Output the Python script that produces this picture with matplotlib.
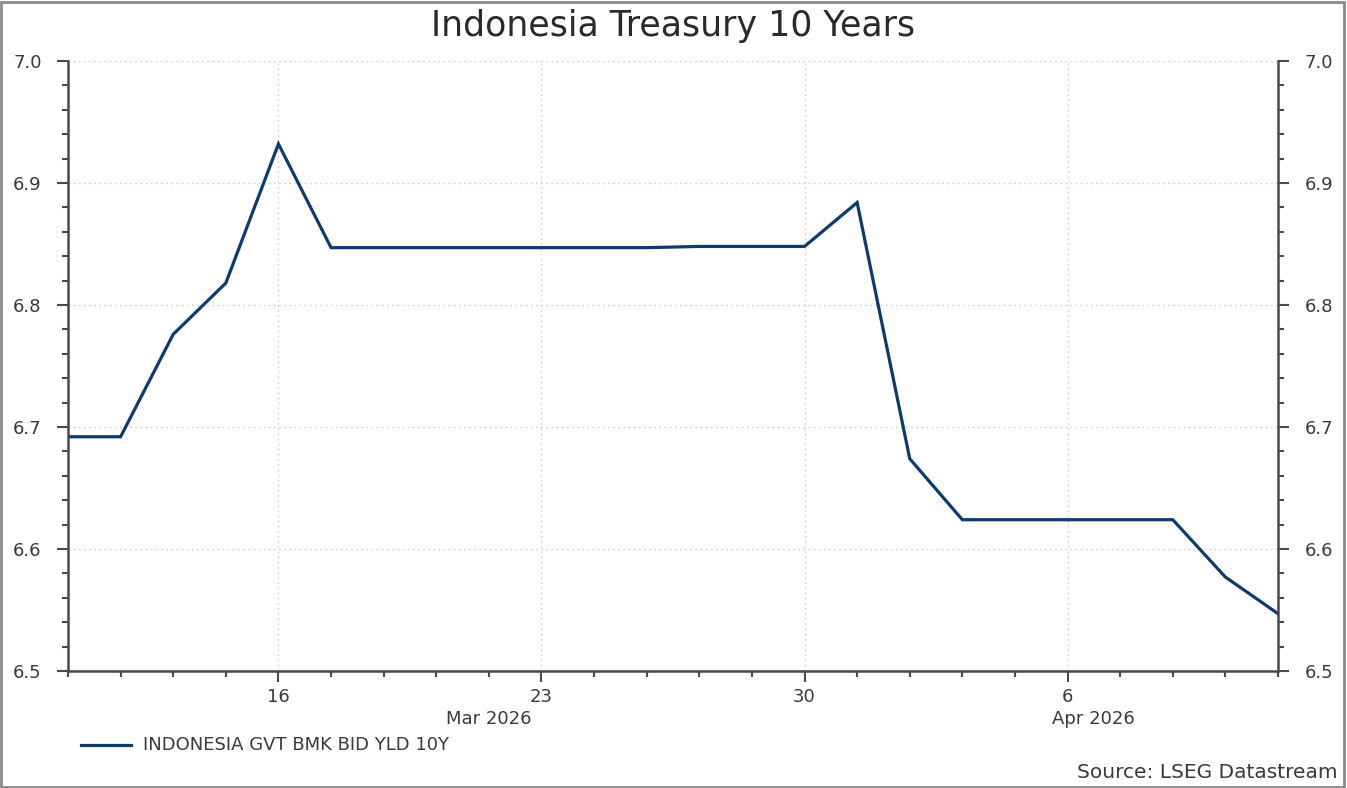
import matplotlib
matplotlib.use("Agg")
import matplotlib.pyplot as plt
from matplotlib.patches import Rectangle
import numpy as np
import pandas as pd

# ---- data ----
dates = ["2026-03-10", "2026-03-11", "2026-03-12", "2026-03-13", "2026-03-16",
         "2026-03-17", "2026-03-18", "2026-03-19", "2026-03-20", "2026-03-23",
         "2026-03-24", "2026-03-25", "2026-03-26", "2026-03-27", "2026-03-30",
         "2026-03-31", "2026-04-01", "2026-04-02", "2026-04-03", "2026-04-06",
         "2026-04-07", "2026-04-08", "2026-04-09", "2026-04-10"]
yields = [6.692, 6.692, 6.776, 6.818, 6.932,
          6.847, 6.847, 6.847, 6.847, 6.847,
          6.847, 6.847, 6.848, 6.848, 6.848,
          6.884, 6.674, 6.624, 6.624, 6.624,
          6.624, 6.624, 6.577, 6.547]
major_dates = ["2026-03-16", "2026-03-23", "2026-03-30", "2026-04-06"]
major_labels = ["16", "23", "30", "6"]
month_labels = ["Mar 2026", "Apr 2026"]
month_pos = [8.0, 19.5]
series_name = "INDONESIA GVT BMK BID YLD 10Y"
title = "Indonesia Treasury 10 Years"
source = "Source: LSEG Datastream"

plt.rcParams['font.family'] = ['DejaVu Sans']

d = pd.to_datetime(dates)
x = np.arange(len(d))
major_idx = [int(np.where(d == pd.Timestamp(m))[0][0]) for m in major_dates]

W, H = 1347, 788
fig = plt.figure(figsize=(W / 100, H / 100), dpi=100)
ax = fig.add_axes([68 / W, 1 - 671 / H, (1278 - 68) / W, (671 - 61) / H])

line_color = "#0c3b70"
axis_color = "#4a4a4a"
text_color = "#3a3a3a"

ax.plot(x, yields, color=line_color, lw=2.3, solid_joinstyle="miter")
ax.set_xlim(x[0], x[-1])
ax.set_ylim(6.5, 7.0)

ax.set_yticks(np.arange(6.5, 7.0001, 0.1))
ax.set_yticks(np.arange(6.5, 7.0001, 0.02), minor=True)
ax.set_yticklabels([f"{v:.1f}" for v in np.arange(6.5, 7.0001, 0.1)])
ax.set_xticks(major_idx)
ax.set_xticklabels(major_labels)
ax.set_xticks(x, minor=True)

ax.tick_params(axis="both", which="major", length=8, width=1.5, color=axis_color,
               labelsize=13, labelcolor=text_color, direction="out")
ax.tick_params(axis="both", which="minor", length=4, width=1.5, color=axis_color,
               direction="out")
ax.tick_params(axis="y", which="both", left=True, right=True, labelleft=True,
               labelright=True)
ax.tick_params(axis="y", which="major", pad=11)
ax.tick_params(axis="x", which="major", pad=4)

for s in ["left", "right", "bottom"]:
    ax.spines[s].set_color(axis_color)
    ax.spines[s].set_linewidth(1.8)
ax.spines["top"].set_visible(False)

ax.grid(True, which="major", color="#cccccc", linestyle=(0, (1.2, 2.5)), lw=1.0)
ax.set_axisbelow(True)

for lab, pos in zip(month_labels, month_pos):
    ax.text(pos, -0.079, lab, transform=ax.get_xaxis_transform(), ha="center",
            va="center", fontsize=13, color=text_color)

fig.text(673 / W, 1 - 26 / H, title, ha="center", va="center", fontsize=25,
         color="#2a2a2a")

fig.add_artist(plt.Line2D([81 / W, 131 / W], [1 - 745 / H, 1 - 745 / H],
                          color=line_color, lw=2.3, transform=fig.transFigure))
fig.text(143 / W, 1 - 745 / H, series_name, ha="left", va="center", fontsize=13,
         color=text_color)
fig.text(1338 / W, 1 - 773 / H, source, ha="right", va="center", fontsize=14.5,
         color=text_color)

fig.add_artist(Rectangle((0.001, 0.001), 0.997, 0.997, transform=fig.transFigure,
                         fill=False, edgecolor="#8a8a8a", lw=2))

fig.savefig("out.png", dpi=100)
